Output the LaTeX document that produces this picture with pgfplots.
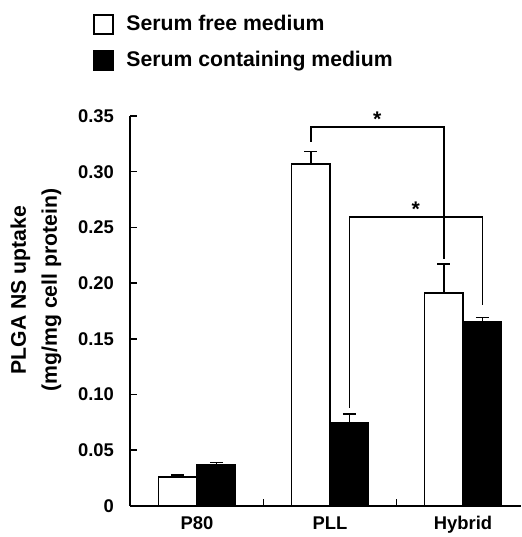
\documentclass[border=0pt]{standalone}
\usepackage{fontspec}
\setmainfont{Liberation Sans}
\usepackage{pgfplots}
\pgfplotsset{compat=1.18}

% 1 px of the reference = 0.5pt here
\begin{document}
\begin{tikzpicture}
\begin{axis}[
    scale only axis,
    width=195.5pt, height=195pt,
    xmin=-0.504, xmax=2.436,
    ymin=0, ymax=0.35,
    clip=false,
    axis x line=bottom, axis y line=left,
    axis line style={line width=0.8pt, -},
    tick style={line width=0.8pt, black},
    tick align=inside,
    major tick length=3.5pt,
    xtick={0.5,1.5}, xticklabels={},
    extra x ticks={0,1,2},
    extra x tick labels={P80,PLL,Hybrid},
    extra x tick style={major tick length=0pt, tick label style={inner sep=0pt, yshift=-5pt}},
    ytick={0,0.05,0.10,0.15,0.20,0.25,0.30,0.35},
    yticklabels={0,0.05,0.10,0.15,0.20,0.25,0.30,0.35},
    tick label style={font=\fontsize{9.2}{11}\selectfont\bfseries},
    yticklabel style={xshift=-4.5pt},
    ylabel={PLGA NS uptake\\(mg/mg cell protein)},
    ylabel style={font=\fontsize{10.6}{15.5}\selectfont\bfseries, align=center,
        at={(rel axis cs:-0.2404,0.554)}, anchor=center},
    legend style={at={(rel axis cs:-0.095,1.27)}, anchor=north west,
        draw=none, fill=none, inner sep=0pt, row sep=5pt,
        font=\fontsize{10.6}{12}\selectfont\bfseries,
        /tikz/every odd column/.append style={column sep=4.3pt}},
    legend cell align=left,
    legend image code/.code={\draw[#1, line width=0.8pt] (0pt,-4.75pt) rectangle (9.5pt,4.75pt);},
]

% serum free medium (white), bars at group position - 0.145
\addplot[ybar, bar width=0.29, bar shift=0pt, fill=white, draw=black, line width=0.8pt,
    error bars/.cd, y dir=plus, y explicit,
    error bar style={line width=0.8pt, black},
    error mark options={rotate=90, mark size=3.25pt, line width=0.8pt, black}]
  coordinates {(-0.145,0.026) +- (0,0.002) (0.855,0.307) +- (0,0.011) (1.855,0.191) +- (0,0.026)};

% serum containing medium (black), bars at group position + 0.145
\addplot[ybar, bar width=0.29, bar shift=0pt, fill=black, draw=black, line width=0.8pt,
    error bars/.cd, y dir=plus, y explicit,
    error bar style={line width=0.8pt, black},
    error mark options={rotate=90, mark size=3.25pt, line width=0.8pt, black}]
  coordinates {(0.145,0.037) +- (0,0.002) (1.145,0.075) +- (0,0.0075) (2.145,0.165) +- (0,0.004)};

\legend{Serum free medium, Serum containing medium}

% significance brackets
\draw[line width=0.8pt] (axis cs:0.855,0.327) -- (axis cs:0.855,0.340) -- (axis cs:1.855,0.340) -- (axis cs:1.855,0.222);
\node[font=\fontsize{10.6}{12}\selectfont\bfseries, anchor=base] at (axis cs:1.355,0.3407) {*};
\draw[line width=0.8pt] (axis cs:1.145,0.088) -- (axis cs:1.145,0.2595) -- (axis cs:2.145,0.2595) -- (axis cs:2.145,0.180);
\node[font=\fontsize{10.6}{12}\selectfont\bfseries, anchor=base] at (axis cs:1.645,0.2602) {*};

% frame of the picture
\path (rel axis cs:-0.3325,-0.0795) rectangle (rel axis cs:1,1.2974);
\end{axis}
\end{tikzpicture}
\end{document}
